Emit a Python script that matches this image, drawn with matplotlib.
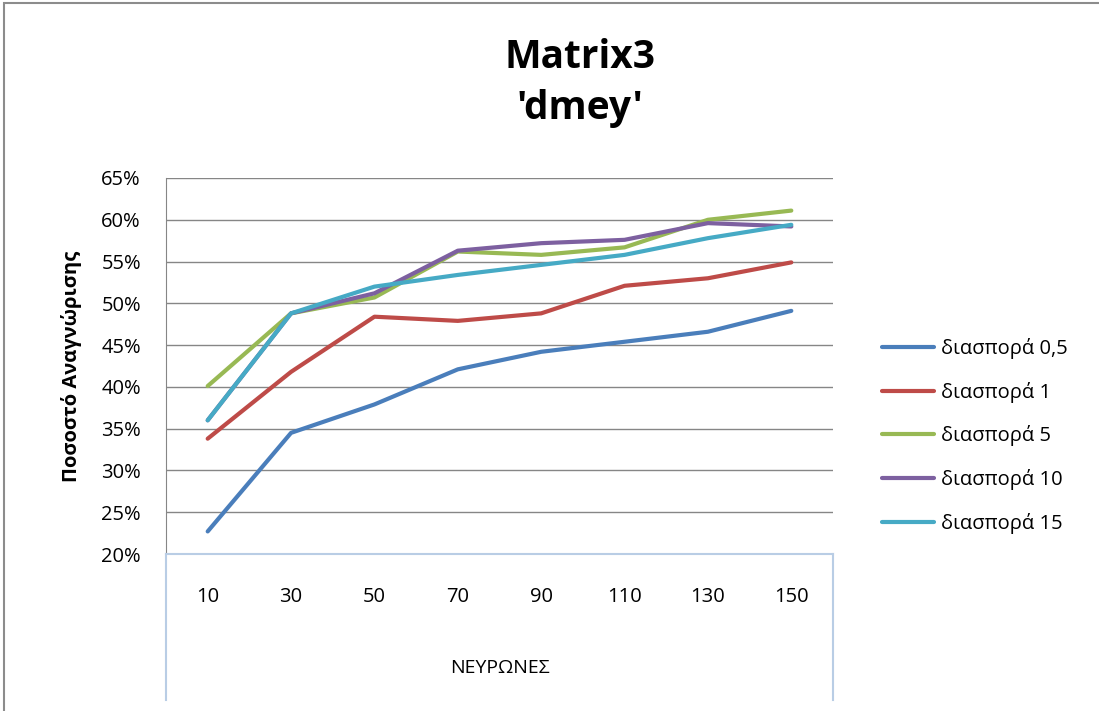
import matplotlib
matplotlib.use("Agg")
import matplotlib.pyplot as plt
from matplotlib.lines import Line2D
from matplotlib.patches import Rectangle
import numpy as np

plt.rcParams['font.family'] = ['Open Sans', 'DejaVu Sans']

categories = ["10", "30", "50", "70", "90", "110", "130", "150"]
series_names = ["διασπορά 0,5", "διασπορά 1", "διασπορά 5", "διασπορά 10", "διασπορά 15"]
s_05 = [22.7, 34.5, 37.9, 42.1, 44.2, 45.4, 46.6, 49.1]
s_1 = [33.8, 41.8, 48.4, 47.9, 48.8, 52.1, 53.0, 54.9]
s_5 = [40.1, 48.8, 50.7, 56.2, 55.8, 56.7, 60.0, 61.1]
s_10 = [36.0, 48.8, 51.2, 56.3, 57.2, 57.6, 59.6, 59.2]
s_15 = [36.0, 48.8, 52.0, 53.4, 54.6, 55.8, 57.8, 59.4]
yticks = [20, 25, 30, 35, 40, 45, 50, 55, 60, 65]
colors = ["#4a7ebb", "#be4b48", "#98b954", "#7d60a0", "#46aac5"]

W, H = 1099, 711
fig = plt.figure(figsize=(W / 100, H / 100), dpi=100)
L, R, T, B = 166, 833, 178, 554
ax = fig.add_axes([L / W, 1 - B / H, (R - L) / W, (B - T) / H])

x = np.arange(len(categories))
for name, vals, c in zip(series_names, [s_05, s_1, s_5, s_10, s_15], colors):
    ax.plot(x, vals, color=c, lw=3, label=name, solid_capstyle='round', solid_joinstyle='round')

ax.set_xlim(-0.5, len(categories) - 0.5)
ax.set_ylim(20, 65)
ax.set_yticks(yticks)
ax.set_yticklabels([f"{v}%" for v in yticks], fontsize=14.5)
ax.yaxis.grid(True, color="#868686", lw=1)
ax.set_axisbelow(True)
ax.tick_params(axis='y', length=0, pad=18)
ax.set_xticks(x)
ax.set_xticklabels(categories, fontsize=14.5)
ax.tick_params(axis='x', length=0, pad=24)
for s in ['top', 'right', 'bottom']:
    ax.spines[s].set_visible(False)
ax.spines['left'].set_color("#868686")

ax.set_ylabel("Ποσοστό Αναγνώρισης", fontsize=14.5, fontweight='bold', labelpad=14)

# category axis box
bc = "#b9cde5"
fig.add_artist(Line2D([L / W, R / W], [1 - B / H, 1 - B / H], color=bc, lw=1.5))
for xx in (L, R):
    fig.add_artist(Line2D([xx / W, xx / W], [1 - 700 / H, 1 - B / H], color=bc, lw=1.5))
fig.text(500 / W, 1 - 668 / H, "ΝΕΥΡΩΝΕΣ", fontsize=14, ha='center', va='center')

fig.text(580 / W, 1 - 58 / H, "Matrix3", fontsize=28, fontweight='bold', ha='center', va='center')
fig.text(580 / W, 1 - 108 / H, "'dmey'", fontsize=28, fontweight='bold', ha='center', va='center')

ax.legend(loc='center left', bbox_to_anchor=(864 / W, 1 - 436 / H), bbox_transform=fig.transFigure,
          frameon=False, fontsize=14.5, handlelength=2.6, handletextpad=0.3, labelspacing=1.12)

fig.add_artist(Rectangle((4 / W, -0.01), 1.1, 1 - 3 / H + 0.01, transform=fig.transFigure,
                         fill=False, edgecolor="#8c8c8c", lw=1.5))

fig.savefig("out.png", dpi=100)
